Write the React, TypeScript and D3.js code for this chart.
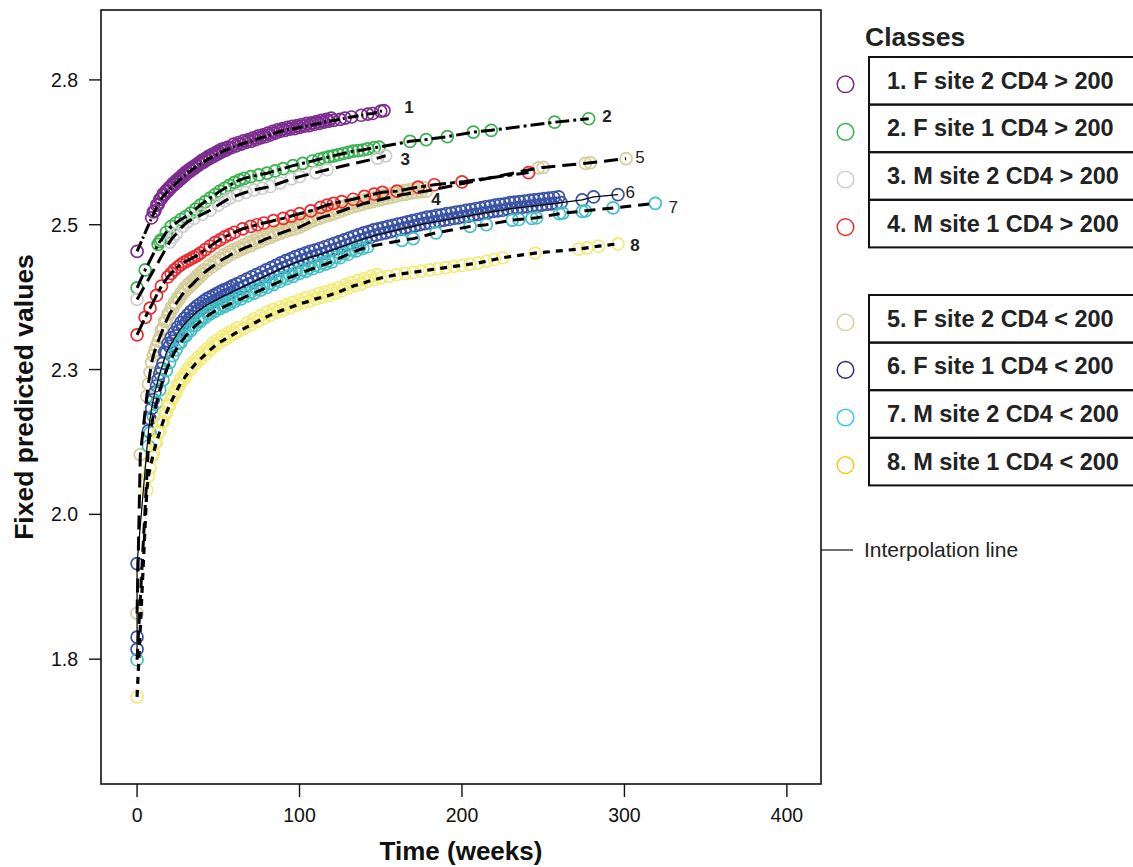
import React from "react";
import * as d3 from "d3";

// ---------- data ----------
const classLabels = [
  "1. F site 2 CD4 > 200",
  "2. F site 1 CD4 > 200",
  "3. M site 2 CD4 > 200",
  "4. M site 1 CD4 > 200",
  "5. F site 2 CD4 < 200",
  "6. F site 1 CD4 < 200",
  "7. M site 2 CD4 < 200",
  "8. M site 1 CD4 < 200",
];
const classIds = ["1", "2", "3", "4", "5", "6", "7", "8"];

// main observations per class (the interpolation line passes through these)
const t1 = [0,9,11,13,15,17,19,21,23,25,27,29,31,33,35,37,39,41,43,45,47,49,51,53,55,58,61,64,67,70,73,76,79,82,85,88,91,94,97,100,103,106,109,112,115,118,121,125,128,132,138,142,145,150,152];
const v1 = [2.454,2.512,2.524,2.535,2.545,2.552,2.558,2.564,2.569,2.574,2.579,2.584,2.589,2.593,2.597,2.601,2.605,2.608,2.612,2.615,2.618,2.621,2.624,2.627,2.629,2.633,2.636,2.639,2.642,2.644,2.647,2.650,2.652,2.655,2.658,2.661,2.663,2.665,2.666,2.668,2.670,2.671,2.673,2.675,2.677,2.679,2.680,2.682,2.684,2.686,2.689,2.691,2.692,2.696,2.697];

const t2 = [0,5,13,14,15,18,21,24,27,30,33,36,39,42,45,48,51,54,57,60,63,66,70,75,80,85,90,96,102,108,112,115,118,121,124,127,130,133,136,139,142,146,149,168,178,191,207,218,257,278];
const v2 = [2.391,2.422,2.466,2.471,2.474,2.487,2.497,2.503,2.509,2.514,2.520,2.527,2.534,2.540,2.546,2.552,2.558,2.563,2.568,2.573,2.577,2.580,2.583,2.586,2.589,2.593,2.597,2.602,2.606,2.610,2.613,2.615,2.617,2.619,2.621,2.623,2.625,2.627,2.628,2.629,2.631,2.633,2.634,2.644,2.647,2.652,2.660,2.663,2.677,2.683];

const t3 = [0,20,22,24,28,31,35,40,45,50,54,57,62,67,72,77,82,88,95,100,110,117,148,153];
const v3 = [2.371,2.470,2.478,2.484,2.497,2.505,2.511,2.518,2.525,2.534,2.541,2.546,2.551,2.556,2.560,2.563,2.566,2.572,2.579,2.583,2.590,2.595,2.615,2.619];

const t4 = [0,5,8,12,15,19,21,23,25,27,29,31,33,35,37,39,42,45,48,51,54,57,60,65,70,74,78,84,90,95,100,107,113,117,121,126,133,140,146,151,160,173,183,200,241];
const v4 = [2.310,2.340,2.356,2.378,2.394,2.410,2.416,2.422,2.427,2.431,2.435,2.438,2.441,2.444,2.447,2.451,2.457,2.463,2.469,2.474,2.479,2.483,2.487,2.493,2.497,2.500,2.503,2.507,2.511,2.515,2.519,2.524,2.530,2.534,2.537,2.540,2.544,2.549,2.553,2.556,2.558,2.565,2.569,2.574,2.590];

const t5 = [0,2,6,7,8,9,10,11,12,13,14,16,18,20,22,24,26,28,30,32,34,36,38,40,43,46,49,52,55,58,61,64,67,70,73,76,79,82,85,88,91,94,97,100,103,106,109,112,115,118,121,124,127,130,133,136,139,142,145,148,151,154,157,160,163,166,169,172,175,178,247,250,276,279,301];
const v5 = [1.829,2.103,2.204,2.225,2.245,2.262,2.274,2.283,2.291,2.299,2.306,2.320,2.334,2.346,2.355,2.364,2.372,2.380,2.387,2.392,2.397,2.403,2.408,2.414,2.421,2.427,2.433,2.439,2.444,2.449,2.453,2.457,2.461,2.464,2.468,2.471,2.475,2.478,2.482,2.485,2.488,2.491,2.493,2.496,2.500,2.504,2.508,2.511,2.514,2.516,2.519,2.522,2.525,2.528,2.531,2.533,2.536,2.538,2.540,2.542,2.544,2.546,2.548,2.550,2.552,2.553,2.555,2.556,2.557,2.558,2.598,2.599,2.606,2.607,2.614];

const t6 = [0,0,0,7,8,9,10,11,12,13,14,15,16,18,20,22,24,26,28,30,32,34,36,38,40,42,44,46,48,50,52,54,56,58,60,63,66,69,72,75,78,81,84,87,90,93,96,99,102,105,108,111,114,117,120,123,126,129,132,135,138,141,144,147,150,153,156,159,162,165,168,171,174,177,180,183,186,189,192,195,198,201,204,207,210,213,216,219,222,225,228,231,234,237,240,243,246,249,252,255,258,261,274,281,296];
const v6 = [1.767,1.788,1.915,2.144,2.165,2.183,2.198,2.211,2.222,2.233,2.243,2.252,2.261,2.279,2.290,2.299,2.308,2.317,2.324,2.331,2.337,2.342,2.348,2.352,2.356,2.360,2.363,2.366,2.369,2.372,2.375,2.378,2.380,2.383,2.386,2.390,2.394,2.398,2.402,2.406,2.410,2.414,2.418,2.422,2.426,2.429,2.433,2.436,2.439,2.442,2.445,2.447,2.450,2.453,2.456,2.459,2.462,2.465,2.468,2.471,2.474,2.477,2.479,2.482,2.484,2.486,2.488,2.490,2.492,2.494,2.496,2.498,2.500,2.502,2.503,2.505,2.506,2.508,2.509,2.511,2.512,2.514,2.515,2.517,2.518,2.520,2.521,2.523,2.524,2.525,2.527,2.528,2.529,2.530,2.531,2.532,2.533,2.534,2.535,2.536,2.537,2.538,2.543,2.548,2.552];

const t7 = [0,7,8,10,12,14,16,18,20,22,24,27,30,33,36,39,42,45,48,51,54,57,60,64,68,72,76,80,84,88,92,96,100,104,108,112,116,120,125,130,135,139,142,163,170,184,205,215,231,235,243,246,260,262,274,276,293,319];
const v7 = [1.749,2.118,2.141,2.170,2.193,2.215,2.232,2.248,2.262,2.274,2.284,2.297,2.308,2.317,2.326,2.333,2.340,2.346,2.351,2.355,2.359,2.363,2.367,2.372,2.377,2.382,2.387,2.392,2.397,2.402,2.407,2.411,2.416,2.420,2.424,2.428,2.432,2.436,2.443,2.449,2.455,2.459,2.462,2.473,2.476,2.486,2.497,2.500,2.508,2.509,2.511,2.512,2.519,2.520,2.523,2.524,2.529,2.537];

const t8 = [0,6,7,8,10,12,14,16,18,20,22,24,26,28,30,33,36,39,42,45,48,51,54,57,60,63,66,70,74,78,82,86,90,94,98,102,106,110,114,118,122,126,130,134,138,142,146,150,155,160,165,170,175,180,185,190,195,200,205,210,215,220,225,245,272,277,284,296];
const v8 = [1.685,2.042,2.066,2.080,2.105,2.125,2.143,2.160,2.175,2.188,2.200,2.211,2.222,2.231,2.239,2.250,2.260,2.268,2.276,2.284,2.291,2.297,2.302,2.307,2.312,2.317,2.321,2.327,2.333,2.339,2.344,2.349,2.353,2.357,2.361,2.365,2.368,2.372,2.375,2.378,2.382,2.386,2.391,2.395,2.398,2.402,2.405,2.408,2.411,2.414,2.416,2.418,2.420,2.422,2.424,2.426,2.428,2.430,2.432,2.434,2.437,2.440,2.443,2.451,2.458,2.460,2.463,2.467];

// additional observations in the dense bands (circles only)
const t1b = [10,12,14,16,18,20,22,24,26,28,30,32,34,36,38,40,42,44,46,48,50,52,54,56,59.5,62.5,65.5,68.5,71.5,74.5,77.5,80.5,83.5,86.5,89.5,92.5,95.5,98.5,101.5,104.5,107.5,110.5,113.5,116.5,119.5];
const v1b = [2.522,2.534,2.544,2.553,2.559,2.565,2.571,2.576,2.581,2.586,2.591,2.595,2.599,2.603,2.607,2.611,2.614,2.618,2.621,2.624,2.627,2.630,2.632,2.634,2.639,2.642,2.645,2.647,2.650,2.653,2.655,2.658,2.661,2.664,2.666,2.668,2.670,2.671,2.673,2.675,2.676,2.678,2.680,2.682,2.684];

const t5b = [15,17,19,21,23,25,27,29,31,33,35,37,39,41,44.5,47.5,50.5,53.5,56.5,59.5,62.5,65.5,68.5,71.5,74.5,77.5,80.5,83.5,86.5,89.5,92.5,95.5,98.5,101.5,104.5,107.5,110.5,113.5,116.5,119.5,122.5,125.5,128.5,131.5,134.5,137.5,140.5,143.5,146.5,149.5,152.5,155.5,158.5,161.5,164.5,167.5,170.5,173.5,176.5];
const v5b = [2.319,2.333,2.346,2.357,2.366,2.374,2.382,2.390,2.396,2.401,2.406,2.412,2.417,2.422,2.430,2.436,2.442,2.448,2.453,2.457,2.461,2.465,2.469,2.472,2.476,2.479,2.483,2.486,2.490,2.493,2.496,2.498,2.501,2.504,2.508,2.512,2.516,2.519,2.521,2.524,2.527,2.530,2.533,2.536,2.538,2.541,2.543,2.545,2.547,2.549,2.551,2.553,2.555,2.557,2.559,2.560,2.562,2.563,2.564];

const t6b = [17,19,21,23,25,27,29,31,33,35,37,39,41,43,45,47,49,51,53,55,57,59,61.5,64.5,67.5,70.5,73.5,76.5,79.5,82.5,85.5,88.5,91.5,94.5,97.5,100.5,103.5,106.5,109.5,112.5,115.5,118.5,121.5,124.5,127.5,130.5,133.5,136.5,139.5,142.5,145.5,148.5,151.5,154.5,157.5,160.5,163.5,166.5,169.5,172.5,175.5,178.5,181.5,184.5,187.5,190.5,193.5,196.5,199.5,202.5,205.5,208.5,211.5,214.5,217.5,220.5,223.5,226.5,229.5,232.5,235.5,238.5,241.5,244.5,247.5,250.5,253.5,256.5,259.5];
const v6b = [2.280,2.295,2.305,2.314,2.323,2.331,2.338,2.344,2.350,2.355,2.360,2.364,2.368,2.372,2.375,2.378,2.381,2.384,2.387,2.389,2.392,2.395,2.398,2.402,2.406,2.410,2.414,2.418,2.422,2.426,2.430,2.434,2.438,2.441,2.445,2.448,2.451,2.454,2.456,2.459,2.462,2.465,2.468,2.471,2.474,2.477,2.480,2.483,2.486,2.488,2.491,2.493,2.495,2.497,2.499,2.501,2.503,2.505,2.507,2.509,2.511,2.513,2.514,2.516,2.517,2.519,2.520,2.522,2.523,2.525,2.526,2.528,2.529,2.531,2.532,2.534,2.535,2.536,2.538,2.539,2.540,2.541,2.542,2.543,2.544,2.545,2.546,2.547,2.548];

const t7b = [25.5,28.5,31.5,34.5,37.5,40.5,43.5,46.5,49.5,52.5,55.5,58.5,62,66,70,74,78,82,86,90,94,98,102,106,110,114,118,122.5,127.5,132.5,137];
const v7b = [2.295,2.307,2.317,2.326,2.334,2.341,2.347,2.353,2.357,2.361,2.365,2.369,2.374,2.379,2.384,2.389,2.394,2.399,2.404,2.409,2.413,2.418,2.422,2.426,2.430,2.434,2.438,2.444,2.450,2.456,2.461];

const t8b = [9,11,13,15,17,19,21,23,25,27,29,31.5,34.5,37.5,40.5,43.5,46.5,49.5,52.5,55.5,58.5,61.5,68,72,76,80,84,88,92,96,100,104,108,112,116,120,124,128,132,136,140,144,148];
const v8b = [2.100,2.122,2.141,2.159,2.175,2.189,2.201,2.213,2.224,2.234,2.242,2.252,2.262,2.271,2.279,2.287,2.295,2.301,2.307,2.312,2.317,2.322,2.331,2.337,2.343,2.349,2.354,2.358,2.362,2.366,2.370,2.374,2.377,2.381,2.384,2.387,2.391,2.396,2.400,2.404,2.407,2.411,2.414];

const xTicks = [0, 100, 200, 300, 400];
const yTickValues = [1.75, 2.0, 2.25, 2.5, 2.75];
const yTickLabels = ["1.8", "2.0", "2.3", "2.5", "2.8"];

// annotation anchors (data units) for class number labels
const labelT = [167.4, 289.3, 165, 184, 309.6, 303.5, 330, 306.5];
const labelV = [2.7017, 2.6862, 2.612, 2.543, 2.6155, 2.555, 2.529, 2.4638];

// ---------- styles ----------
const plotColors = ["#7b2d8e", "#37b24d", "#cccccc", "#ec2a31", "#d4cc98", "#3b53a6", "#43bfc3", "#f3eb76"];
const legendColors = ["#7a2a84", "#2bb34b", "#d0d0d0", "#ee2a2e", "#d8d2a0", "#2a2a78", "#3cc8f0", "#fcc419"];
const dashes = ["11,3,2,3", "14,4,3,4", "14,7", "16,4,5,4", "14,7", "", "11,7", "7,6"];
const lineWidths = [3, 3, 3, 3, 3, 1.2, 3, 3.2];
const labelBold = [true, true, true, true, false, false, false, true];
const drawOrder = [4, 5, 6, 7, 0, 1, 2, 3];

const FONT = "'Liberation Sans', Arial, Helvetica, sans-serif";

type P = { t: number; v: number };
const zip = (ts: number[], vs: number[]): P[] =>
  ts.slice(0, Math.min(ts.length, vs.length)).map((t, j) => ({ t, v: vs[j] }));

export default function App() {
  const mainT = [t1, t2, t3, t4, t5, t6, t7, t8];
  const mainV = [v1, v2, v3, v4, v5, v6, v7, v8];
  const extraT = [t1b, [], [], [], t5b, t6b, t7b, t8b];
  const extraV = [v1b, [], [], [], v5b, v6b, v7b, v8b];
  const series = mainT.map((ts, i) => zip(ts, mainV[i]));
  const extras = extraT.map((ts, i) => zip(ts, extraV[i]));

  const left = 101, right = 821, top = 10, bottom = 784;
  const x = d3.scaleLinear().domain([-22.2, 421]).range([left, right]);
  const y = d3.scaleLinear().domain([1.5345, 2.8707]).range([bottom, top]);
  const line = d3
    .line<P>()
    .x((d) => x(d.t))
    .y((d) => y(d.v));

  const rowH = 47.6;
  const group1Top = 57;
  const group2Top = 295;
  const rowTop = (i: number) => (i < 4 ? group1Top + i * rowH : group2Top + (i - 4) * rowH);

  return (
    <svg
      width={1133}
      height={867}
      style={{ position: "absolute", left: 0, top: 0, background: "#fff" }}
      fontFamily={FONT}
    >
      <rect x={0} y={0} width={1133} height={867} fill="#fff" />
      {/* points */}
      {drawOrder.map((ci) => (
        <g key={"pts" + ci} fill="none" stroke={plotColors[ci]} strokeWidth={1.7}>
          {series[ci].concat(extras[ci]).map((d, j) => (
            <circle key={j} cx={x(d.t)} cy={y(d.v)} r={6} />
          ))}
        </g>
      ))}
      {/* interpolation lines */}
      {series.map((s, ci) => (
        <path
          key={"ln" + ci}
          d={line(s) || ""}
          fill="none"
          stroke="#000"
          strokeWidth={lineWidths[ci]}
          strokeDasharray={dashes[ci] || undefined}
        />
      ))}
      {/* class number labels */}
      {classIds.map((id, i) => (
        <text
          key={"lab" + i}
          x={x(labelT[i])}
          y={y(labelV[i])}
          textAnchor="middle"
          dominantBaseline="central"
          fontSize={17}
          fontWeight={labelBold[i] ? "bold" : "normal"}
          fill="#222"
        >
          {id}
        </text>
      ))}
      {/* frame */}
      <rect x={left} y={top} width={right - left} height={bottom - top} fill="none" stroke="#111" strokeWidth={1.6} />
      {/* y axis */}
      {yTickValues.map((v, i) => (
        <g key={"yt" + i}>
          <line x1={left - 12} x2={left} y1={y(v)} y2={y(v)} stroke="#111" strokeWidth={1.4} />
          <text x={78} y={y(v)} textAnchor="end" dominantBaseline="central" fontSize={19.5} fill="#111">
            {yTickLabels[i]}
          </text>
        </g>
      ))}
      {/* x axis */}
      {xTicks.map((t) => (
        <g key={"xt" + t}>
          <line x1={x(t)} x2={x(t)} y1={bottom} y2={bottom + 13} stroke="#111" strokeWidth={1.4} />
          <text x={x(t)} y={822} textAnchor="middle" fontSize={19.5} fill="#111">
            {t}
          </text>
        </g>
      ))}
      <text x={461} y={860} textAnchor="middle" fontSize={26} fontWeight="bold" fill="#111">
        Time (weeks)
      </text>
      <text
        transform={`translate(33,${(top + bottom) / 2}) rotate(-90)`}
        textAnchor="middle"
        fontSize={26.5}
        fontWeight="bold"
        fill="#111"
      >
        Fixed predicted values
      </text>
      {/* legend */}
      <text x={865} y={46} fontSize={26.5} fontWeight="bold" fill="#222">
        Classes
      </text>
      {classLabels.map((lab, i) => {
        const ty = rowTop(i);
        return (
          <g key={"lg" + i}>
            <rect x={869} y={ty} width={300} height={rowH} fill="none" stroke="#111" strokeWidth={2} />
            <text x={887} y={ty + rowH / 2 + 8} fontSize={23.5} fontWeight="bold" fill="#222">
              {lab}
            </text>
            <circle cx={845.5} cy={ty + rowH / 2 + 3.5} r={8.3} fill="none" stroke={legendColors[i]} strokeWidth={1.5} />
          </g>
        );
      })}
      <line x1={right} x2={853} y1={550} y2={550} stroke="#111" strokeWidth={1.2} />
      <text x={864} y={557} fontSize={21} fill="#222">
        Interpolation line
      </text>
    </svg>
  );
}
